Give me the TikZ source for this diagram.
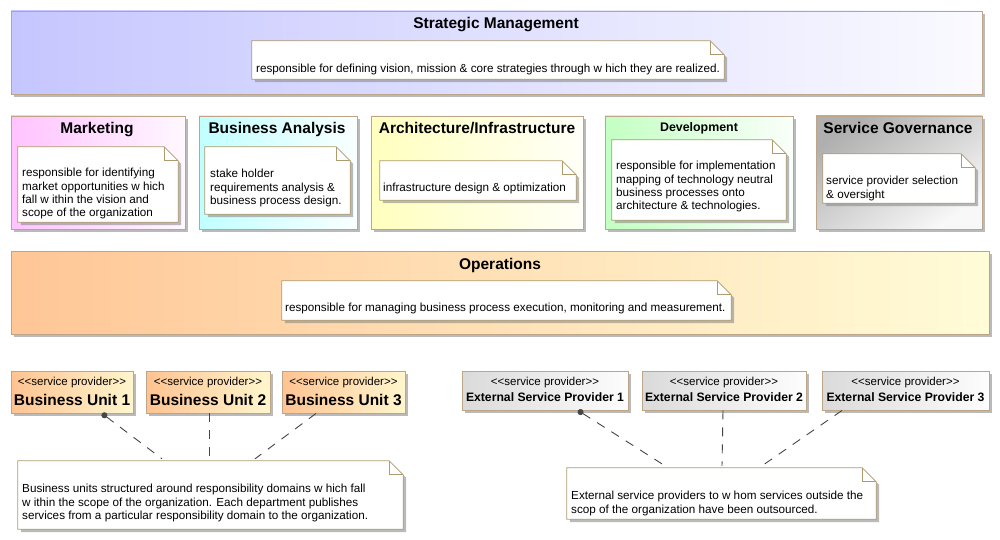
\documentclass[tikz,border=0pt]{standalone}
\usepackage{fontspec}
\setmainfont{Liberation Sans}
\usetikzlibrary{fit,shadows,arrows.meta}
\definecolor{cbord}{RGB}{190,165,135}
\definecolor{nbord}{RGB}{175,155,110}
\definecolor{conn}{RGB}{70,70,70}
\definecolor{smL}{RGB}{198,198,255}\definecolor{smR}{RGB}{250,250,255}
\definecolor{mkL}{RGB}{255,195,255}\definecolor{mkR}{RGB}{255,248,255}
\definecolor{baL}{RGB}{192,255,255}\definecolor{baR}{RGB}{250,255,255}
\definecolor{arL}{RGB}{255,255,190}\definecolor{arR}{RGB}{255,255,248}
\definecolor{dvL}{RGB}{195,255,195}\definecolor{dvR}{RGB}{250,255,250}
\definecolor{sgL}{RGB}{175,175,175}\definecolor{sgR}{RGB}{248,248,248}
\definecolor{opL}{RGB}{255,198,150}\definecolor{opR}{RGB}{255,252,215}
\definecolor{buL}{RGB}{255,195,145}\definecolor{buR}{RGB}{255,246,205}
\definecolor{esL}{RGB}{218,218,218}\definecolor{esR}{RGB}{253,253,253}
\newcommand\stype{\textless\kern0pt\textless\kern0pt service provider\textgreater\kern0pt\textgreater}
\tikzset{
  shad/.style={drop shadow={shadow xshift=3pt,shadow yshift=-3pt,fill=black!45,opacity=0.6}},
  cont/.style={draw=cbord,line width=0.9pt,inner sep=0pt,shad},
  area/.style={inner sep=0pt},
  noteline/.style={draw=nbord,line width=0.8pt},
  ttl/.style={font=\fontsize{15.5}{18}\selectfont\bfseries,inner sep=0pt,anchor=base},
  ttlsmall/.style={font=\fontsize{12.4}{15}\selectfont\bfseries,inner sep=0pt,anchor=base},
  stereo/.style={font=\fontsize{11.5}{14}\selectfont,inner sep=0pt,anchor=base},
  espname/.style={font=\fontsize{12.2}{15}\selectfont\bfseries,inner sep=0pt,anchor=base},
  ntext/.style={font=\fontsize{11.7}{13.4}\selectfont,align=left,inner sep=0pt,anchor=north west},
  link/.style={draw=conn,line width=0.9pt,dash pattern=on 9pt off 8pt},
  dotlink/.style={link,{Circle[length=6pt,fill=conn]}-}
}
\newcommand\NoteShape[1]{%
  \draw[noteline,fill=white,shad] (#1.north west) -- ([xshift=-14pt]#1.north east)
     -- ([yshift=-14pt]#1.north east) -- (#1.south east) -- (#1.south west) -- cycle;
  \draw[noteline] ([xshift=-14pt]#1.north east) |- ([yshift=-14pt]#1.north east);
}
\begin{document}
\begin{tikzpicture}[x=1pt,y=-1pt]
\useasboundingbox[fill=white] (0,0) rectangle (1000,540);

% ---------- Strategic Management
\node[cont,left color=smL,right color=smR,fit={(11,11)(982,94)}] (sm) {};
\node[ttl] (smt) at (496,28.5) {Strategic Management};
\node[area,fit={(252,41)(724,79)}] (smn) {};
\NoteShape{smn}
\node[ntext] (smx) at (256,64) {responsible for defining vision, mission \& core strategies through w hich they are realized.};

% ---------- Marketing
\node[cont,left color=mkL,right color=mkR,fit={(11,116)(185,229)}] (mk) {};
\node[ttl] (mkt) at (97,133.5) {Marketing};
\node[area,fit={(18,147)(178,222)}] (mkn) {};
\NoteShape{mkn}
\node[ntext] (mkx) at (22,168) {responsible for identifying\\market opportunities w hich\\fall w ithin the vision and\\scope of the organization};

% ---------- Business Analysis
\node[cont,left color=baL,right color=baR,fit={(199,116)(357,229)}] (ba) {};
\node[ttl] (bat) at (277,133.5) {Business Analysis};
\node[area,fit={(205,147)(350,214)}] (ban) {};
\NoteShape{ban}
\node[ntext] (bax) at (210,169) {stake holder\\requirements analysis \&\\business process design.};

% ---------- Architecture/Infrastructure
\node[cont,left color=arL,right color=arR,fit={(371,116)(583,229)}] (ar) {};
\node[ttl] (art) at (477,133.5) {Architecture/Infrastructure};
\node[area,fit={(380,161)(576,200)}] (arn) {};
\NoteShape{arn}
\node[ntext] (arx) at (383,183) {infrastructure design \& optimization};

% ---------- Development
\node[cont,left color=dvL,right color=dvR,fit={(605,116)(793,229)}] (dv) {};
\node[ttlsmall] (dvt) at (699,131.5) {Development};
\node[area,fit={(612,140)(786,220)}] (dvn) {};
\NoteShape{dvn}
\node[ntext] (dvx) at (616,161) {responsible for implementation\\mapping of technology neutral\\business processes onto\\architecture \& technologies.};

% ---------- Service Governance
\node[cont,top color=sgL,bottom color=sgR,shading angle=35,fit={(816,116)(982,229)}] (sg) {};
\node[ttl] (sgt) at (898,133.5) {Service Governance};
\node[area,fit={(823,154)(975,203)}] (sgn) {};
\NoteShape{sgn}
\node[ntext] (sgx) at (826,176) {service provider selection\\\& oversight};

% ---------- Operations
\node[cont,left color=opL,right color=opR,fit={(11,251)(989,334)}] (op) {};
\node[ttl] (opt) at (500,269.5) {Operations};
\node[area,fit={(282,281)(731,320)}] (opn) {};
\NoteShape{opn}
\node[ntext] (opx) at (285,303) {responsible for managing business process execution, monitoring and measurement.};

% ---------- Business units
\node[cont,left color=buL,right color=buR,fit={(11,371)(133,413)}] (bu1) {};
\node[cont,left color=buL,right color=buR,fit={(146,371)(270,413)}] (bu2) {};
\node[cont,left color=buL,right color=buR,fit={(282,371)(405,413)}] (bu3) {};
\node[stereo] (bu1s) at (72,385) {\stype};
\node[ttl] (bu1t) at (72,405.5) {Business Unit 1};
\node[stereo] (bu2s) at (208,385) {\stype};
\node[ttl] (bu2t) at (208,405.5) {Business Unit 2};
\node[stereo] (bu3s) at (343.5,385) {\stype};
\node[ttl] (bu3t) at (343.5,405.5) {Business Unit 3};

\node[area,fit={(18,461)(403,529)}] (bun) {};
\NoteShape{bun}
\node[ntext] (bux) at (22,484) {Business units structured around responsibility domains w hich fall\\w ithin the scope of the organization. Each department publishes\\services from a particular responsibility domain to the organization.};

\draw[dotlink] ([xshift=30pt]bu1.south) -- ([xshift=-48.5pt,yshift=2pt]bun.north);
\draw[link] ([xshift=1pt]bu2.south) -- ([xshift=-1.5pt,yshift=2pt]bun.north);
\draw[link] ([xshift=-27.5pt]bu3.south) -- ([xshift=44.5pt,yshift=2pt]bun.north);

% ---------- External service providers
\node[cont,left color=esL,right color=esR,fit={(462,371)(628,410)}] (es1) {};
\node[cont,left color=esL,right color=esR,fit={(642,371)(806,410)}] (es2) {};
\node[cont,left color=esL,right color=esR,fit={(822,371)(989,410)}] (es3) {};
\node[stereo] (es1s) at (545,385) {\stype};
\node[espname] (es1t) at (545,401.5) {External Service Provider 1};
\node[stereo] (es2s) at (724,385) {\stype};
\node[espname] (es2t) at (724,401.5) {External Service Provider 2};
\node[stereo] (es3s) at (905.5,385) {\stype};
\node[espname] (es3t) at (905.5,401.5) {External Service Provider 3};

\node[area,fit={(567,468)(876,519)}] (esn) {};
\NoteShape{esn}
\node[ntext] (esx) at (571,491) {External service providers to w hom services outside the\\scop of the organization have been outsourced.};

\draw[dotlink] ([xshift=33pt]es1.south) -- ([xshift=-56.5pt,yshift=2pt]esn.north);
\draw[link] ([xshift=-1pt]es2.south) -- ([xshift=0.5pt,yshift=2pt]esn.north);
\draw[link] ([xshift=-63.5pt]es3.south) -- ([xshift=40.5pt,yshift=2pt]esn.north);
\end{tikzpicture}
\end{document}
